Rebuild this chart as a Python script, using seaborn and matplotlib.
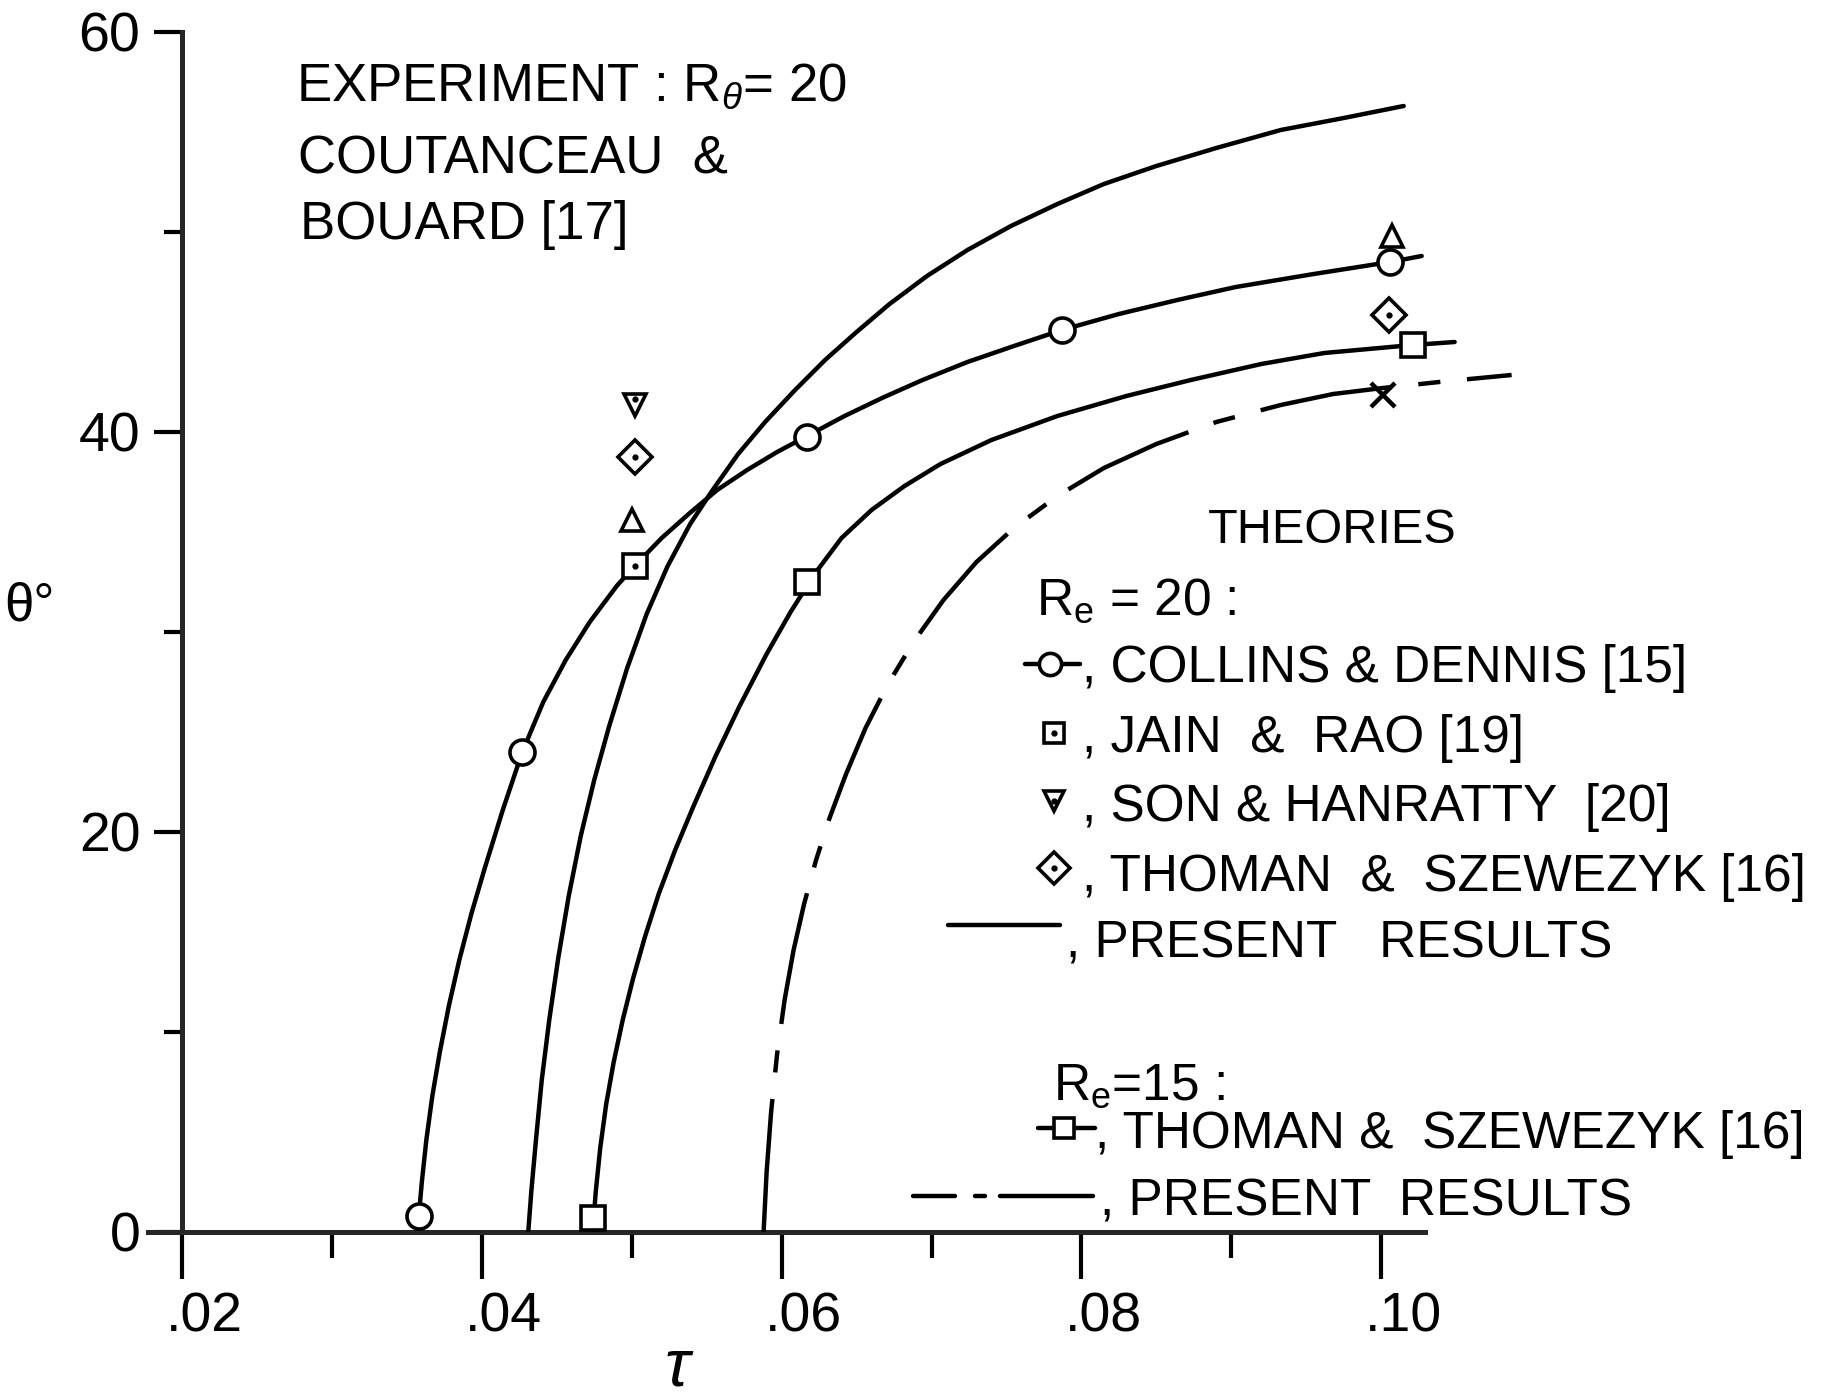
import matplotlib
matplotlib.use("Agg")
import matplotlib.pyplot as plt
from matplotlib import font_manager as fm
from matplotlib.lines import Line2D
from matplotlib.ticker import FixedLocator, NullFormatter
from matplotlib.transforms import ScaledTranslation
import pandas as pd
import seaborn as sns

# ---------------- data: separation angle theta (deg) vs time tau ----------------
# present results, Re = 20 (solid)
pr20_tau = [0.0431, 0.0433, 0.0436, 0.0440, 0.0445, 0.0451, 0.0458, 0.0466, 0.0475,
            0.0485, 0.0497, 0.0510, 0.0524, 0.0539, 0.0554, 0.0571, 0.0589, 0.0609,
            0.0629, 0.0650, 0.0672, 0.0697, 0.0724, 0.0753, 0.0784, 0.0815, 0.0850,
            0.0890, 0.0933, 0.0975, 0.1015]
pr20_theta = [0.0, 2.0, 4.5, 7.6, 10.6, 13.7, 16.8, 19.8, 22.6,
              25.3, 28.2, 30.9, 33.3, 35.4, 37.1, 38.9, 40.5, 42.1,
              43.6, 45.0, 46.4, 47.8, 49.1, 50.3, 51.4, 52.4, 53.3,
              54.2, 55.1, 55.7, 56.3]

# Collins & Dennis, Re = 20 (line through circles)
cd_line_tau = [0.0358, 0.0360, 0.0363, 0.0367, 0.0372, 0.0378, 0.0385, 0.0393, 0.0402,
               0.0414, 0.0427, 0.0441, 0.0456, 0.0472, 0.0490, 0.0502, 0.0520, 0.0538,
               0.0557, 0.0577, 0.0597, 0.0617, 0.0642, 0.0667, 0.0694, 0.0724, 0.0755,
               0.0787, 0.0825, 0.0864, 0.0903, 0.0955, 0.1006, 0.1027]
cd_line_theta = [0.8, 2.5, 4.6, 6.8, 9.0, 11.3, 13.6, 15.9, 18.2,
                 21.1, 24.0, 26.5, 28.6, 30.5, 32.3, 33.3, 34.7, 35.9,
                 37.1, 38.1, 39.0, 39.8, 40.8, 41.7, 42.6, 43.5, 44.3,
                 45.1, 45.9, 46.6, 47.25, 47.9, 48.5, 48.8]
cd_pts_tau = [0.0358, 0.0427, 0.0617, 0.0787, 0.1006]
cd_pts_theta = [0.8, 24.0, 39.75, 45.1, 48.5]

# Thoman & Szewczyk, Re = 15 (line through squares)
ts15_line_tau = [0.0474, 0.0476, 0.0479, 0.0483, 0.0488, 0.0494, 0.0501, 0.0509, 0.0518,
                 0.0529, 0.0541, 0.0556, 0.0572, 0.0590, 0.0606, 0.0622, 0.0640, 0.0660,
                 0.0682, 0.0706, 0.0740, 0.0784, 0.0830, 0.0873, 0.0920, 0.0962, 0.1021,
                 0.1049]
ts15_line_theta = [0.0, 2.0, 4.2, 6.4, 8.5, 10.6, 12.7, 14.8, 16.9,
                   19.1, 21.25, 23.8, 26.3, 28.9, 31.0, 32.9, 34.7, 36.1,
                   37.3, 38.4, 39.6, 40.8, 41.8, 42.6, 43.4, 43.95, 44.35,
                   44.5]
ts15_pts_tau = [0.0474, 0.0617, 0.1021]
ts15_pts_theta = [0.7, 32.5, 44.35]

# present results, Re = 15 (dash-dot)
pr15_tau = [0.0588, 0.0590, 0.0593, 0.0597, 0.0602, 0.0608, 0.0615, 0.0623, 0.0632,
            0.0643, 0.0656, 0.0671, 0.0688, 0.0708, 0.0730, 0.0755, 0.0784, 0.0815,
            0.0850, 0.0890, 0.0933, 0.0968, 0.1001, 0.1045, 0.1087]
pr15_theta = [0.0, 3.0, 6.0, 8.9, 11.6, 14.1, 16.4, 18.6, 20.7,
              22.9, 25.2, 27.4, 29.5, 31.6, 33.5, 35.2, 36.8, 38.2,
              39.4, 40.5, 41.35, 41.9, 42.2, 42.55, 42.85]

# single-point results
jain_tau, jain_theta = [0.0502], [33.3]
son_tau, son_theta = [0.0502], [41.35]
ts20_tau, ts20_theta = [0.0502, 0.1005], [38.75, 45.85]
exp_tau, exp_theta = [0.0500, 0.1007], [35.6, 49.8]
cross_tau, cross_theta = [0.1001], [41.85]

x_major = [0.02, 0.04, 0.06, 0.08, 0.10]
x_major_labels = [".02", ".04", ".06", ".08", ".10"]
x_minor = [0.03, 0.05, 0.07, 0.09]
y_major = [0, 20, 40, 60]
y_minor = [10, 30, 50]

# ---------------- style ----------------
sns.set_theme(style="ticks")
names = {f.name for f in fm.fontManager.ttflist}
NARROW = "Liberation Sans Narrow" if "Liberation Sans Narrow" in names else "Liberation Sans"
TOP_SIZE = 42 if NARROW.endswith("Narrow") else 38
plt.rcParams["font.family"] = ["Liberation Sans", "DejaVu Sans"]
plt.rcParams["mathtext.fontset"] = "custom"
plt.rcParams["mathtext.rm"] = "Liberation Sans"
plt.rcParams["mathtext.it"] = "Liberation Sans:italic"
plt.rcParams["axes.linewidth"] = 3.6

W, H = 1844, 1400
fig = plt.figure(figsize=(W / 100, H / 100), dpi=100)
fig.patch.set_facecolor("white")


def fx(px):
    return px / W


def fy(py):
    return 1 - py / H


ax = fig.add_axes([fx(182), fy(1232), 1648.9 / W, 1200 / H])
ax.set_facecolor("white")

LW = 3.2
K = "black"

sns.lineplot(data=pd.DataFrame({"tau": pr20_tau, "theta": pr20_theta}), x="tau", y="theta",
             sort=False, estimator=None, color=K, lw=LW, ax=ax)
sns.lineplot(data=pd.DataFrame({"tau": cd_line_tau, "theta": cd_line_theta}), x="tau", y="theta",
             sort=False, estimator=None, color=K, lw=LW, ax=ax)
sns.lineplot(data=pd.DataFrame({"tau": ts15_line_tau, "theta": ts15_line_theta}), x="tau", y="theta",
             sort=False, estimator=None, color=K, lw=LW, ax=ax)
sns.lineplot(data=pd.DataFrame({"tau": pr15_tau, "theta": pr15_theta}), x="tau", y="theta",
             sort=False, estimator=None, color=K, lw=LW, linestyle=(0, (30, 6, 5, 6)), ax=ax)
for ln in ax.get_lines():
    ln.set_solid_joinstyle("round")
    ln.set_dash_joinstyle("round")

mk = dict(ls="none", mfc="white", mec=K, mew=2.6, clip_on=False, zorder=5)
ax.plot(cd_pts_tau, cd_pts_theta, marker="o", ms=18, **mk)
ax.plot(ts15_pts_tau, ts15_pts_theta, marker="s", ms=17, **mk)
ax.plot(jain_tau, jain_theta, marker="s", ms=17, **mk)
ax.plot(son_tau, son_theta, marker="v", ms=16, **mk)
ax.plot(ts20_tau, ts20_theta, marker="D", ms=17, **mk)
ax.plot(exp_tau, exp_theta, marker="^", ms=16, **mk)
ax.plot(cross_tau, cross_theta, marker="x", ms=17, ls="none", mec=K, mew=3.2, zorder=5)
# centre dots of the dotted symbols
dot = dict(ls="none", marker="o", ms=3.5, color=K, zorder=6)
ax.plot(jain_tau, jain_theta, **dot)
ax.plot(son_tau, [v + 0.3 for v in son_theta], **dot)
ax.plot(ts20_tau, ts20_theta, **dot)

# ---------------- axes ----------------
ax.set_xlim(0.02, 0.13)
ax.set_ylim(0, 60)
for s in ("top", "right"):
    ax.spines[s].set_visible(False)
ax.spines["bottom"].set_bounds(0.0177, 0.1029)
ax.spines["left"].set_bounds(0, 60)
ax.spines["bottom"].set_zorder(1)

ax.xaxis.set_major_locator(FixedLocator(x_major))
ax.set_xticklabels(x_major_labels)
ax.xaxis.set_minor_locator(FixedLocator(x_minor))
ax.xaxis.set_minor_formatter(NullFormatter())
ax.yaxis.set_major_locator(FixedLocator(y_major))
ax.set_yticklabels([str(v) for v in y_major])
ax.yaxis.set_minor_locator(FixedLocator(y_minor))
ax.yaxis.set_minor_formatter(NullFormatter())

ax.tick_params(axis="x", which="major", direction="out", length=34, width=3, pad=9,
               labelsize=40, colors=K)
ax.tick_params(axis="x", which="minor", direction="out", length=19, width=3, colors=K)
ax.tick_params(axis="y", which="major", direction="out", length=20, width=3, pad=10,
               labelsize=40, colors=K)
ax.tick_params(axis="y", which="minor", direction="out", length=13, width=3, colors=K)
shift = ScaledTranslation(0.22, 0, fig.dpi_scale_trans)
for lab in ax.get_xticklabels():
    lab.set_transform(lab.get_transform() + shift)

ax.set_xlabel("")
ax.set_ylabel("")
fig.text(fx(29), fy(607), "θ°", ha="center", va="center", fontsize=38, color=K)
fig.text(fx(677), fy(1386), "τ", ha="center", va="baseline", fontsize=48,
         style="italic", color=K)

# ---------------- annotations ----------------
top = dict(fontsize=TOP_SIZE, family=[NARROW, "DejaVu Sans"], va="baseline", ha="left", color=K)
fig.text(fx(296), fy(101), r"EXPERIMENT : R$_\theta$= 20", **top)
fig.text(fx(298), fy(173), "COUTANCEAU  &", **top)
fig.text(fx(300), fy(239), "BOUARD [17]", **top)

leg = dict(fontsize=37, va="baseline", ha="left", color=K)
fig.text(fx(1208), fy(543), "THEORIES", fontsize=35, va="baseline", ha="left", color=K)
fig.text(fx(1036), fy(615), r"R$_\mathrm{e}$ = 20 :", **leg)
fig.text(fx(1082), fy(682), ", COLLINS & DENNIS [15]", **leg)
fig.text(fx(1082), fy(752), ", JAIN  &  RAO [19]", **leg)
fig.text(fx(1082), fy(821), ", SON & HANRATTY  [20]", **leg)
fig.text(fx(1082), fy(891), ", THOMAN  &  SZEWEZYK [16]", **leg)
fig.text(fx(1066), fy(958), ", PRESENT   RESULTS", **leg)
fig.text(fx(1053), fy(1100), r"R$_\mathrm{e}$=15 :", **leg)
fig.text(fx(1095), fy(1148), ", THOMAN &  SZEWEZYK [16]", **leg)
fig.text(fx(1100), fy(1215), ", PRESENT  RESULTS", **leg)


# key symbols
def key_line(x0, x1, y, **kw):
    fig.add_artist(Line2D([fx(x0), fx(x1)], [fy(y), fy(y)], color=K, lw=LW, **kw))


def key_mark(x, y, marker, ms, dotted=False):
    fig.add_artist(Line2D([fx(x)], [fy(y)], ls="none", marker=marker, ms=ms,
                          mfc="white", mec=K, mew=2.6))
    if dotted:
        fig.add_artist(Line2D([fx(x)], [fy(y)], ls="none", marker="o", ms=3.5, color=K))


key_line(1025, 1080, 664)
key_mark(1050, 664, "o", 16)
key_mark(1054, 733, "s", 15, dotted=True)
key_mark(1054, 801, "v", 15, dotted=True)
key_mark(1054, 868, "D", 16, dotted=True)
key_line(948, 1060, 925)
key_line(1038, 1095, 1128)
key_mark(1064, 1128, "s", 15)
key_line(913, 955, 1196)
key_line(975, 985, 1196)
key_line(1000, 1093, 1196)

fig.savefig("out.png", dpi=100, facecolor="white")
